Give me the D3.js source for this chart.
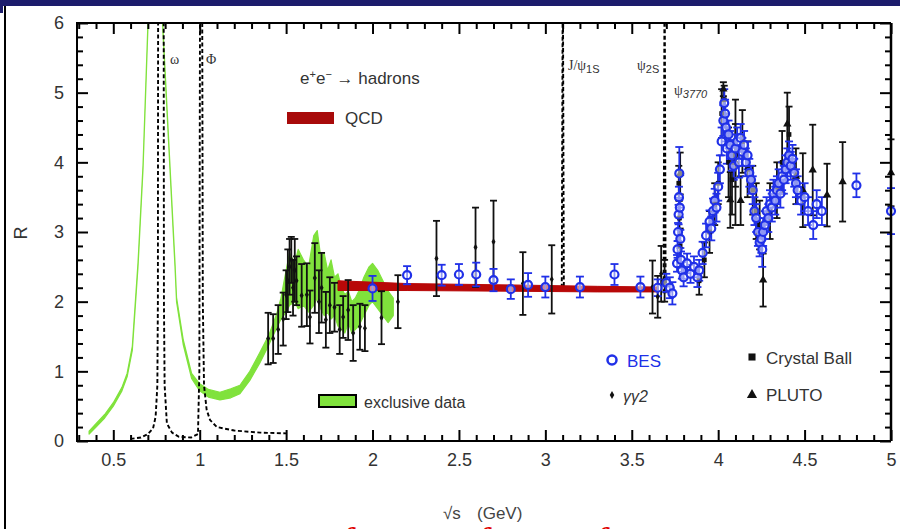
<!DOCTYPE html>
<html><head><meta charset="utf-8">
<script src="https://cdn.jsdelivr.net/npm/d3@7"></script>
<style>html,body{margin:0;padding:0;background:#fff;overflow:hidden}svg{display:block}</style>
</head><body>
<svg id="c" width="900" height="529"></svg>
<script>
// ---------- data ----------
const xMajorTicks = [0.5,1,1.5,2,2.5,3,3.5,4,4.5,5];
const xTickLabels = ["0.5","1","1.5","2","2.5","3","3.5","4","4.5","5"];
const yMajorTicks = [0,1,2,3,4,5,6];
const yTickLabels = ["0","1","2","3","4","5","6"];

// exclusive data band (green): x, lower, upper
const greenX  = [0.36,0.40,0.45,0.50,0.55,0.58,0.61,0.643,0.672,0.70,0.74,0.77,0.787,0.82,0.857,0.866,0.905,0.953,1.00,1.05,1.117,1.18,1.233,1.29,1.348,1.40,1.445,1.47,1.50,1.52,1.55,1.57,1.60,1.63,1.66,1.68,1.70,1.72,1.74,1.76,1.78,1.80,1.82,1.84,1.86,1.88,1.90,1.92,1.95,1.98,2.00,2.03,2.06,2.09,2.12];
const greenLo = [0.10,0.20,0.33,0.50,0.72,0.92,1.30,2.50,3.90,5.90,7.4,6.9,5.88,4.28,2.50,2.00,1.38,0.90,0.72,0.63,0.59,0.62,0.68,0.87,1.12,1.38,1.62,1.75,1.85,1.95,2.00,1.90,1.95,1.85,1.95,2.05,1.90,1.80,1.85,1.75,1.80,1.65,1.60,1.55,1.70,1.55,1.60,1.65,1.80,1.95,2.00,1.90,1.80,1.70,1.80];
const greenHi = [0.14,0.25,0.38,0.55,0.77,0.97,1.36,2.56,3.96,5.97,7.5,7.0,5.94,4.34,2.56,2.06,1.45,0.97,0.82,0.74,0.70,0.75,0.80,1.00,1.27,1.52,1.82,2.05,2.45,2.70,2.55,2.75,2.60,2.50,2.95,3.02,2.65,2.70,2.45,2.60,2.35,2.40,2.20,2.10,2.15,2.00,2.05,2.15,2.35,2.50,2.55,2.45,2.30,2.15,2.05];

// resonance curve (black dashed), low-energy part
const dashX = [0.60,0.66,0.70,0.73,0.745,0.755,0.758,0.760,0.791,0.793,0.797,0.81,0.84,0.88,0.95,0.99,0.998,1.003,1.013,1.018,1.025,1.04,1.06,1.10,1.20,1.35,1.50];
const dashY = [0.03,0.05,0.10,0.18,0.35,0.80,2.00,8.00,8.00,2.00,0.80,0.25,0.12,0.06,0.05,0.10,1.00,8.00,8.00,2.00,0.80,0.45,0.30,0.20,0.15,0.12,0.11];
// charmonium spikes: x, base, top
const jpsiX = [3.095,3.101,3.107];
const jpsiY = [2.20,7.0,2.20];
const psi2sX = [3.684,3.690,3.696];
const psi2sY = [2.12,7.0,2.12];

// QCD band
const qcdX  = [1.80,2.20,2.80,3.30,3.65];
const qcdLo = [2.16,2.16,2.15,2.14,2.14];
const qcdHi = [2.30,2.26,2.24,2.22,2.21];

// BES: [sqrt(s), R, err]
const besData = [
 [2.0,2.19,0.18],[2.2,2.38,0.13],[2.4,2.38,0.15],[2.5,2.39,0.15],[2.6,2.39,0.17],[2.7,2.31,0.16],
 [2.8,2.18,0.14],[2.9,2.24,0.17],[3.0,2.21,0.15],[3.2,2.21,0.15],[3.4,2.39,0.15],[3.55,2.21,0.15],
 [3.65,2.20,0.12],[3.70,2.27,0.13],[3.72,2.20,0.15],[3.735,2.12,0.16],
 [3.762,2.55,0.12],[3.765,2.75,0.12],[3.768,3.00,0.13],[3.771,3.25,0.14],[3.773,3.50,0.15],[3.775,3.84,0.38],
 [3.778,3.35,0.14],[3.781,2.90,0.13],[3.785,2.60,0.12],[3.79,2.45,0.12],
 [3.80,2.35,0.13],[3.82,2.55,0.14],[3.84,2.40,0.13],[3.86,2.50,0.15],[3.88,2.35,0.14],[3.89,2.45,0.15],
 [3.91,2.70,0.16],[3.93,2.95,0.17],[3.95,3.15,0.16],[3.96,3.05,0.17],[3.97,3.30,0.18],[3.98,3.45,0.17],
 [3.99,3.35,0.20],[4.00,3.65,0.20],[4.01,3.90,0.20],[4.02,4.30,0.20],[4.03,4.60,0.22],[4.035,4.85,0.20],
 [4.04,4.70,0.20],[4.045,4.50,0.20],[4.05,4.20,0.22],[4.06,4.40,0.20],[4.07,4.25,0.20],[4.08,4.10,0.22],
 [4.09,3.95,0.20],[4.10,4.20,0.20],[4.11,4.30,0.20],[4.12,4.00,0.22],[4.13,4.35,0.20],[4.14,4.15,0.20],
 [4.15,4.25,0.20],[4.16,4.00,0.20],[4.17,4.10,0.20],[4.18,3.85,0.20],[4.19,3.75,0.20],[4.20,3.60,0.20],
 [4.21,3.30,0.20],[4.22,3.20,0.20],[4.23,3.00,0.20],[4.24,2.85,0.20],[4.25,2.90,0.20],[4.255,2.75,0.25],
 [4.26,3.00,0.20],[4.27,3.10,0.20],[4.28,3.30,0.20],[4.29,3.20,0.20],[4.30,3.40,0.20],[4.31,3.35,0.20],
 [4.32,3.55,0.20],[4.33,3.45,0.20],[4.34,3.60,0.20],[4.35,3.70,0.20],[4.36,3.55,0.20],[4.37,3.80,0.20],
 [4.38,3.75,0.20],[4.39,3.90,0.20],[4.40,4.00,0.20],[4.41,4.10,0.20],[4.42,3.95,0.20],[4.43,4.05,0.20],
 [4.44,3.85,0.20],[4.45,3.70,0.20],[4.46,3.60,0.20],[4.48,3.45,0.20],[4.50,3.50,0.20],[4.52,3.30,0.20],
 [4.55,3.10,0.20],[4.57,3.40,0.20],[4.60,3.30,0.20],[4.80,3.67,0.17],[5.0,3.30,0.33]
];
// gamma gamma 2
const g2Data = [
 [1.396,1.47,0.37],[1.425,1.47,0.35],[1.454,1.60,0.35],[1.483,1.75,0.38],[1.50,2.10,0.35],[1.51,2.30,0.45],
 [1.52,2.50,0.40],[1.53,2.60,0.33],[1.54,2.20,0.40],[1.55,2.45,0.45],[1.56,2.30,0.35],[1.59,2.09,0.45],
 [1.62,2.10,0.45],[1.638,1.78,0.38],[1.666,2.34,0.50],[1.69,2.00,0.45],[1.705,2.20,0.50],[1.73,1.74,0.40],
 [1.753,1.95,0.40],[1.78,1.92,0.35],[1.81,1.60,0.35],[1.83,1.78,0.30],[1.859,1.88,0.43],[1.888,1.55,0.40],
 [1.927,1.64,0.33],[1.956,1.62,0.33],[2.052,1.77,0.38],[2.147,2.00,0.38],[2.37,2.62,0.54],[2.596,2.78,0.57],
 [2.70,2.86,0.59],[2.87,2.26,0.45],[3.037,2.32,0.49],[3.62,2.21,0.38],[3.65,2.07,0.30],[3.67,2.40,0.40]
];
// Crystal Ball
const cbData = [
 [3.69,2.30,0.30],[3.772,3.70,0.25],[3.776,3.20,0.25],[3.78,2.80,0.25],[3.89,2.30,0.20],[3.92,2.60,0.25],
 [3.95,3.00,0.30],[3.98,3.40,0.30],[4.00,3.70,0.30],[4.02,4.70,0.35],[4.035,4.90,0.20],[4.06,4.00,0.50],
 [4.08,3.75,0.50],[4.10,4.10,0.45],[4.14,4.30,0.45],[4.17,3.90,0.40],[4.20,3.60,0.35],[4.22,3.30,0.40],
 [4.24,3.10,0.35],[4.30,3.30,0.40],[4.34,3.60,0.40],[4.37,4.00,0.45],[4.41,4.40,0.40]
];
// PLUTO
const plutoData = [
 [3.78,3.84,0.30],[4.03,5.05,0.10],[4.07,3.46,0.40],[4.10,4.00,0.90],[4.13,3.45,0.35],[4.26,2.31,0.38],
 [4.40,4.55,0.45],[4.45,3.80,0.40],[4.49,3.60,0.53],[4.547,3.89,0.65],[4.63,3.53,0.45],[4.72,3.72,0.57],
 [5.0,3.85,0.48]
];

// ---------- drawing ----------
const svg = d3.select("#c");
const W = 900, H = 529;
const x = d3.scaleLinear().domain([0.29,5]).range([77,891]);
const y = d3.scaleLinear().domain([0,6]).range([441,23]);
const font = "'Liberation Sans', Arial, sans-serif";
const serif = "'Liberation Serif', 'DejaVu Serif', serif";
const blue = "#2030e8", green = "#80e23c", red = "#b80808";
const pB = y.range()[0], pT = y.range()[1], pL = x.range()[0], pR = x.range()[1];

svg.append("rect").attr("width",W).attr("height",H).attr("fill","#fff");
// slide decorations
svg.append("rect").attr("x",0).attr("y",0).attr("width",W).attr("height",6).attr("fill","#1c1c6c");
svg.append("rect").attr("x",0).attr("y",0).attr("width",3).attr("height",13).attr("fill","#1c1c6c");
svg.append("line").attr("x1",5).attr("x2",5).attr("y1",6).attr("y2",H).attr("stroke","#000").attr("stroke-width",2);

svg.append("clipPath").attr("id","pc").append("rect")
  .attr("x",pL).attr("y",pT).attr("width",pR-pL).attr("height",pB-pT);

const plot = svg.append("g").attr("clip-path","url(#pc)");

// green band
const band = d3.area().x(d=>x(d[0])).y0(d=>y(d[1])).y1(d=>y(d[2]));
plot.append("path").datum(greenX.map((v,i)=>[v,greenLo[i],greenHi[i]]))
  .attr("d",band).attr("fill",green).attr("stroke",green).attr("stroke-width",1.2).attr("stroke-linejoin","round");

// dashed curves
const line = d3.line().x(d=>x(d[0])).y(d=>y(d[1]));
function dashed(xs, ys){
  plot.append("path").datum(xs.map((v,i)=>[v,ys[i]])).attr("d",line)
    .attr("fill","none").attr("stroke","#000").attr("stroke-width",1.9).attr("stroke-dasharray","4,2.5");
}
dashed(dashX,dashY); dashed(jpsiX,jpsiY); dashed(psi2sX,psi2sY);

// QCD band
plot.append("path").datum(qcdX.map((v,i)=>[v,qcdLo[i],qcdHi[i]]))
  .attr("d",band).attr("fill",red).attr("stroke",red).attr("stroke-width",1);

// error bars helper
function errbars(data, color, cap, sw){
  const g = svg.append("g").attr("stroke",color).attr("stroke-width",sw).attr("fill","none");
  data.forEach(d=>{
    const cx = x(d[0]), yt = y(d[1]+d[2]), yb = y(d[1]-d[2]);
    g.append("line").attr("x1",cx).attr("x2",cx).attr("y1",yt).attr("y2",yb);
    g.append("line").attr("x1",cx-cap).attr("x2",cx+cap).attr("y1",yt).attr("y2",yt);
    g.append("line").attr("x1",cx-cap).attr("x2",cx+cap).attr("y1",yb).attr("y2",yb);
  });
}
errbars(g2Data,"#111",3.5,1.8);
errbars(cbData,"#111",3.5,1.8);
errbars(plutoData,"#111",3.5,1.8);
errbars(besData,blue,4,1.8);

// markers
svg.append("g").selectAll("path").data(g2Data).join("path")
  .attr("d",d3.symbol(d3.symbolDiamond,14)).attr("transform",d=>`translate(${x(d[0])},${y(d[1])})`).attr("fill","#111");
svg.append("g").selectAll("path").data(cbData).join("path")
  .attr("d",d3.symbol(d3.symbolSquare,22)).attr("transform",d=>`translate(${x(d[0])},${y(d[1])})`).attr("fill","#111");
svg.append("g").selectAll("path").data(plutoData).join("path")
  .attr("d",d3.symbol(d3.symbolTriangle,30)).attr("transform",d=>`translate(${x(d[0])},${y(d[1])})`).attr("fill","#111");
svg.append("g").selectAll("circle").data(besData).join("circle")
  .attr("cx",d=>x(d[0])).attr("cy",d=>y(d[1])).attr("r",4).attr("fill","#fff").attr("fill-opacity",0.5)
  .attr("stroke",blue).attr("stroke-width",2.2);

// axes
const axisG = svg.append("g");
function styleAxis(g){
  g.select(".domain").remove();
  g.selectAll("line").attr("stroke","#000").attr("stroke-width",2);
  g.selectAll("text").attr("font-family",font).attr("font-size",18).attr("fill","#333");
}
const xMinor = d3.range(3,51).map(v=>v/10).filter(v=>Math.abs(v*2-Math.round(v*2))>1e-6);
const yMinor = d3.range(1,30).map(v=>v/5).filter(v=>Math.abs(v-Math.round(v))>1e-6);

axisG.append("g").attr("transform",`translate(0,${pB})`)
  .call(d3.axisBottom(x).tickValues(xMajorTicks).tickSize(-11).tickPadding(12).tickFormat((d,i)=>xTickLabels[i])).call(styleAxis);
axisG.append("g").attr("transform",`translate(0,${pB})`)
  .call(d3.axisBottom(x).tickValues(xMinor).tickSize(-6).tickFormat("")).call(styleAxis);
axisG.append("g").attr("transform",`translate(0,${pT})`)
  .call(d3.axisTop(x).tickValues(xMajorTicks).tickSize(-11).tickFormat("")).call(styleAxis);
axisG.append("g").attr("transform",`translate(0,${pT})`)
  .call(d3.axisTop(x).tickValues(xMinor).tickSize(-6).tickFormat("")).call(styleAxis);
axisG.append("g").attr("transform",`translate(${pL},0)`)
  .call(d3.axisLeft(y).tickValues(yMajorTicks).tickSize(-11).tickPadding(13).tickFormat((d,i)=>yTickLabels[i])).call(styleAxis);
axisG.append("g").attr("transform",`translate(${pL},0)`)
  .call(d3.axisLeft(y).tickValues(yMinor).tickSize(-6).tickFormat("")).call(styleAxis);
axisG.append("g").attr("transform",`translate(${pR},0)`)
  .call(d3.axisRight(y).tickValues(yMajorTicks).tickSize(-11).tickFormat("")).call(styleAxis);
axisG.append("g").attr("transform",`translate(${pR},0)`)
  .call(d3.axisRight(y).tickValues(yMinor).tickSize(-6).tickFormat("")).call(styleAxis);
// frame
svg.append("polyline").attr("points",`${pR},${pT} ${pL},${pT} ${pL},${pB} ${pR},${pB}`)
  .attr("fill","none").attr("stroke","#000").attr("stroke-width",2);
svg.append("line").attr("x1",pR).attr("x2",pR).attr("y1",pT).attr("y2",pB).attr("stroke","#000").attr("stroke-width",2.5);

// axis titles
svg.append("text").attr("transform","translate(27,233) rotate(-90)").attr("text-anchor","middle")
  .attr("font-family",font).attr("font-size",18).attr("fill","#333").text("R");
svg.append("text").attr("x",443).attr("y",519).attr("font-family",font).attr("font-size",17).attr("fill","#444").text("√s");
svg.append("text").attr("x",477).attr("y",519).attr("font-family",font).attr("font-size",17).attr("fill","#444").text("(GeV)");

// annotations
const T = (xx,yy,txt,size,opts={})=>svg.append("text").attr("x",xx).attr("y",yy).attr("font-family",opts.family||font)
  .attr("font-size",size).attr("fill",opts.fill||"#333").attr("font-style",opts.style||"normal").text(txt);
const eeT = T(300,84,"",17);
eeT.append("tspan").text("e");
eeT.append("tspan").attr("dy",-6).attr("font-size",11).text("+");
eeT.append("tspan").attr("dy",6).text("e");
eeT.append("tspan").attr("dy",-6).attr("font-size",11).text("−");
eeT.append("tspan").attr("dy",6).text(" → hadrons");
svg.append("rect").attr("x",287).attr("y",112).attr("width",47).attr("height",12).attr("fill","#a80a0a");
T(345,124,"QCD",17);

T(170,64,"ω",14,{family:serif});
T(206,64,"Φ",14,{family:serif});
const jp = T(568,70,"J/ψ",14,{family:serif});
jp.append("tspan").attr("dy",3).attr("font-size",11).attr("font-family",font).text("1S");
const p2 = T(637,70,"ψ",14,{family:serif});
p2.append("tspan").attr("dy",3).attr("font-size",11).attr("font-family",font).text("2S");
const p3 = T(674,95,"ψ",14,{family:serif});
p3.append("tspan").attr("dy",3).attr("font-size",11).attr("font-style","italic").attr("font-family",font).text("3770");

// legends
svg.append("rect").attr("x",319).attr("y",395).attr("width",37).attr("height",12).attr("fill",green).attr("stroke","#000").attr("stroke-width",2);
T(364,408,"exclusive data",16);
svg.append("circle").attr("cx",612).attr("cy",360).attr("r",4.5).attr("fill","#fff").attr("stroke",blue).attr("stroke-width",2.5);
T(627,367,"BES",17,{fill:blue});
svg.append("path").attr("d",d3.symbol(d3.symbolDiamond,18)).attr("transform","translate(612,395)").attr("fill","#111");
T(623,402,"γγ2",16,{style:"italic"});
svg.append("path").attr("d",d3.symbol(d3.symbolSquare,50)).attr("transform","translate(752,357)").attr("fill","#111");
T(766,364,"Crystal Ball",17);
svg.append("path").attr("d",d3.symbol(d3.symbolTriangle,45)).attr("transform","translate(752,395)").attr("fill","#111");
T(766,401,"PLUTO",17);

// slide caption, mostly cut off at the bottom of the frame
const cap = [["T",207,"normal"],["i",262,"normal"],["f",340,"italic"],["i",394,"normal"],["f",476,"italic"],["i",509,"normal"],["f",594,"italic"],["i",642,"normal"]];
cap.forEach(c=>T(c[1],555,c[0],40,{family:serif,fill:"#e00000",style:c[2]}));
</script>
</body></html>
